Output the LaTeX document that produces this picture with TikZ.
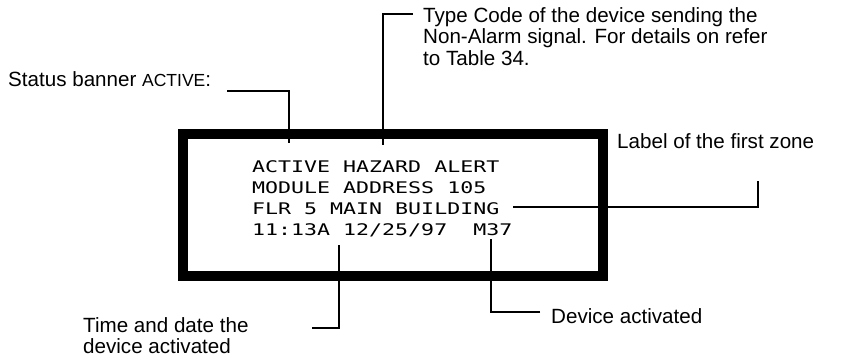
\documentclass[tikz,border=0pt]{standalone}
\usepackage{fontspec}
\setmainfont{Liberation Sans}
\newfontfamily\lcdfam{DejaVu Sans Mono}
\newcommand{\lcdtext}[1]{\scalebox{1.35}[1]{\lcdfam\fontsize{16}{16}\selectfont #1}}
\begin{document}
\begin{tikzpicture}[x=1pt,y=-1pt,
  lbl/.style={inner sep=0pt, anchor=base west, font=\fontsize{20.6}{21}\selectfont},
  lcd/.style={inner sep=0pt, anchor=base west},
  leader/.style={line width=1.6pt, line cap=butt, line join=miter},
  panel/.style={line width=10pt, line join=miter}]
\useasboundingbox (0,0) rectangle (850,360);
% display panel
\draw[panel] (183,134) rectangle (603,276);
\node[lcd] (l1) at (252,172.5) {\lcdtext{ACTIVE HAZARD ALERT}};
\node[lcd] (l2) at (252,193.5) {\lcdtext{MODULE ADDRESS 105}};
\node[lcd] (l3) at (252,214.5) {\lcdtext{FLR 5 MAIN BUILDING}};
\node[lcd] (l4) at (252,235.5) {\lcdtext{11:13A 12/25/97\ \ M37}};
% labels (multi-line nodes: base anchor is on the last line)
\node[lbl] (status) at (8,86) {Status banner {\fontsize{17.5}{18}\selectfont ACTIVE}:};
\node[lbl, align=left] (type) at (423,65) {Type Code of the device sending the\\[0.5pt]Non-Alarm signal. For details on refer\\[0.5pt]to Table 34.};
\node[lbl] (zone) at (617,148) {Label of the first zone};
\node[lbl] (dev) at (551,323) {Device activated};
\node[lbl, align=left] (time) at (83,353) {Time and date the\\[-0.5pt]device activated};
% leader end points
\coordinate (sA) at (227,91);
\coordinate (sB) at (289,143);
\coordinate (tA) at (413,14);
\coordinate (tB) at (383,145);
\coordinate (zA) at (758,181);
\coordinate (zB) at (513,207);
\coordinate (dA) at (540,312);
\coordinate (dB) at (491,239);
\coordinate (hA) at (312,328);
\coordinate (hB) at (339,245);
% leaders
\draw[leader] (sA) -| (sB);
\draw[leader] (tA) -| (tB);
\draw[leader] (zA) |- (zB);
\draw[leader] (dA) -| (dB);
\draw[leader] (hA) -| (hB);
\end{tikzpicture}
\end{document}
